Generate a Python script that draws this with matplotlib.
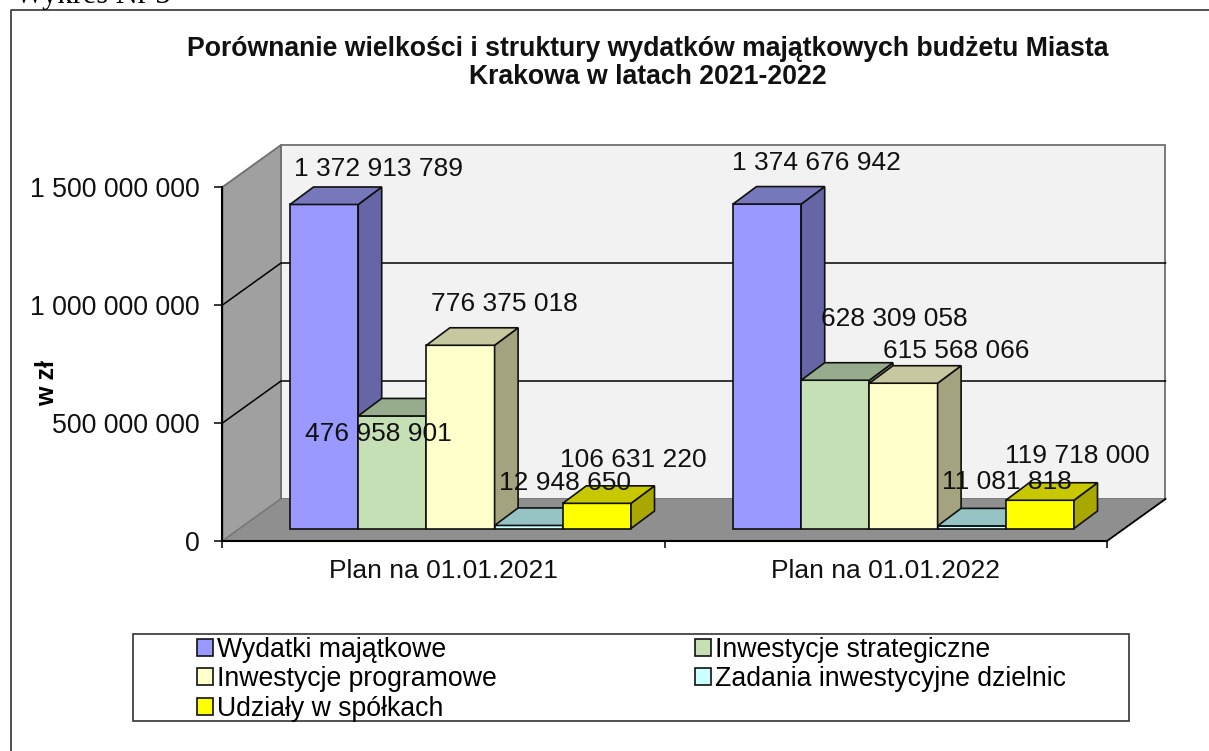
import matplotlib
matplotlib.use("Agg")
import matplotlib.pyplot as plt
from matplotlib.lines import Line2D
from matplotlib.patches import Patch, Rectangle

plt.rcParams['font.family'] = ['Liberation Sans', 'DejaVu Sans']

# ---- data ----
categories = ["Plan na 01.01.2021", "Plan na 01.01.2022"]
series_names = ["Wydatki majątkowe", "Inwestycje strategiczne", "Inwestycje programowe",
                "Zadania inwestycyjne dzielnic", "Udziały w spółkach"]
plan_2021 = [1372913789, 476958901, 776375018, 12948650, 106631220]
plan_2022 = [1374676942, 628309058, 615568066, 11081818, 119718000]
y_ticks = [0, 500000000, 1000000000, 1500000000]
y_tick_labels = ["0", "500 000 000", "1 000 000 000", "1 500 000 000"]
front_colors = ["#9999ff", "#c6e0b6", "#ffffcc", "#ccffff", "#ffff00"]
top_colors = ["#7777bb", "#96ac8c", "#c8c8a0", "#96c4c4", "#c8c800"]
side_colors = ["#6666a6", "#8a9a80", "#a3a380", "#80a8a8", "#a8a800"]

# label offsets from the top-centre of each bar (pixels)
label_off_2021 = [(54, 35), (-14, -18), (44, 41), (36, 42), (36, 43)]
label_off_2022 = [(49, 41), (59, 61), (53, 32), (35, 44), (37, 44)]

W, H = 1209, 751
fig = plt.figure(figsize=(W / 100, H / 100), dpi=100, facecolor="white")
L, R, T, B = 222.5, 1107, 187, 541
ax = fig.add_axes([L / W, 1 - B / H, (R - L) / W, (B - T) / H])
ax.set_xlim(0, 2)
ax.set_ylim(0, 1500000000)
ax.patch.set_visible(False)

ux = 2 / (R - L)               # x data units per pixel
uy = 1500000000 / (B - T)      # y data units per pixel
wall_dx, wall_dy = 58.5 * ux, 42 * uy
bar_dx, bar_dy = 23.5 * ux, 17.5 * uy
base = 12.5 * uy
bar_w = 68.2 * ux
group_x = [(290 - L) * ux, (733 - L) * ux]
top = y_ticks[-1]

# walls and floor
ax.fill([wall_dx, 2 + wall_dx, 2 + wall_dx, wall_dx],
        [wall_dy, wall_dy, top + wall_dy, top + wall_dy],
        fc="#f2f2f2", ec="#707070", lw=1.3, clip_on=False, zorder=1)
ax.fill([0, wall_dx, wall_dx, 0], [0, wall_dy, top + wall_dy, top],
        fc="#a0a0a0", ec="#707070", lw=1.3, clip_on=False, zorder=1.1)
ax.fill([0, 2, 2 + wall_dx, wall_dx], [0, 0, wall_dy, wall_dy],
        fc="#8f8f8f", ec="none", clip_on=False, zorder=1.2)
ax.plot([2, 2 + wall_dx], [0, wall_dy], color="black", lw=1.3, clip_on=False, zorder=1.3)
ax.plot([0, wall_dx], [0, wall_dy], color="#777777", lw=0.8, clip_on=False, zorder=1.3)
for t in y_ticks[1:-1]:
    ax.plot([0, wall_dx, 2 + wall_dx], [t, t + wall_dy, t + wall_dy],
            color="black", lw=1.1, clip_on=False, zorder=1.4)

# bars
z = 2.0
for gx, vals in zip(group_x, [plan_2021, plan_2022]):
    for i, v in enumerate(vals):
        x0 = gx + i * bar_w
        x1 = x0 + bar_w
        y1 = base + v
        ax.bar(x0, v, bar_w, bottom=base, align="edge", color=front_colors[i],
               edgecolor="#101010", lw=1.2, clip_on=False, zorder=z)
        ax.fill([x1, x1 + bar_dx, x1 + bar_dx, x1],
                [base, base + bar_dy, y1 + bar_dy, y1],
                fc=side_colors[i], ec="#101010", lw=1.2, clip_on=False, zorder=z)
        ax.fill([x0, x0 + bar_dx, x1 + bar_dx, x1],
                [y1, y1 + bar_dy, y1 + bar_dy, y1],
                fc=top_colors[i], ec="#101010", lw=1.2, clip_on=False, zorder=z)
        z += 0.01


def fmt(v):
    return f"{v:,}".replace(",", " ")


for gx, vals, offs in zip(group_x, [plan_2021, plan_2022], [label_off_2021, label_off_2022]):
    for i, (v, off) in enumerate(zip(vals, offs)):
        ax.annotate(fmt(v), xy=(gx + (i + 0.5) * bar_w, base + v), xytext=off,
                    textcoords="offset pixels", ha="center", va="center",
                    fontsize=19, color="#111111", annotation_clip=False, zorder=5)

# axes
for s in ["top", "right"]:
    ax.spines[s].set_visible(False)
for s in ["left", "bottom"]:
    ax.spines[s].set_linewidth(1.5)
    ax.spines[s].set_zorder(1.5)
ax.set_yticks(y_ticks)
ax.set_yticklabels(y_tick_labels, fontsize=19.3, color="#111111")
ax.tick_params(axis="y", length=5.5, width=1.1, pad=11)
ax.set_xticks([0.5, 1.5])
ax.set_xticklabels(categories, fontsize=19, color="#111111")
ax.set_xticks([0, 1, 2], minor=True)
ax.tick_params(axis="x", which="major", length=0, pad=13)
ax.tick_params(axis="x", which="minor", length=5, width=1.1)
ax.set_ylabel("w zł", fontsize=18, fontweight="bold", va="center")
ax.yaxis.set_label_coords((47 - L) / (R - L), (B - 383) / (B - T))

# title
fig.suptitle("Porównanie wielkości i struktury wydatków majątkowych budżetu Miasta\n"
             "Krakowa w latach 2021-2022", x=648 / W, y=1 - 63 / H, va="center",
             fontsize=19.2, fontweight="bold", linespacing=1.05, color="#111111")

# legend
fig.add_artist(Rectangle((133 / W, 1 - 721 / H), (1129 - 133) / W, (721 - 634) / H,
                         fc="white", ec="#333333", lw=1.2, transform=fig.transFigure))
order = [0, 2, 4, 1, 3]
handles = [Patch(fc=front_colors[i], ec="#111111", lw=1.2, label=series_names[i]) for i in order]
leg = fig.legend(handles=handles, ncol=2, loc="upper left",
                 bbox_to_anchor=(192 / W, 1 - 631.5 / H), frameon=False,
                 fontsize=19.2, handlelength=0.6, handleheight=0.6, handletextpad=0.13,
                 labelspacing=0.13, columnspacing=7.45, borderpad=0.2, borderaxespad=0)
leg.set_zorder(6)

# page frame and clipped heading
fig.add_artist(Line2D([1, 10.5 / W, 10.5 / W], [1 - 10 / H, 1 - 10 / H, 0],
                      color="#333333", lw=1.2, transform=fig.transFigure))
fig.text(15 / W, 1 - 3.5 / H, "Wykres Nr 3", family="Liberation Serif", fontsize=22,
         va="baseline", color="black")

fig.savefig("out.png", dpi=100)
